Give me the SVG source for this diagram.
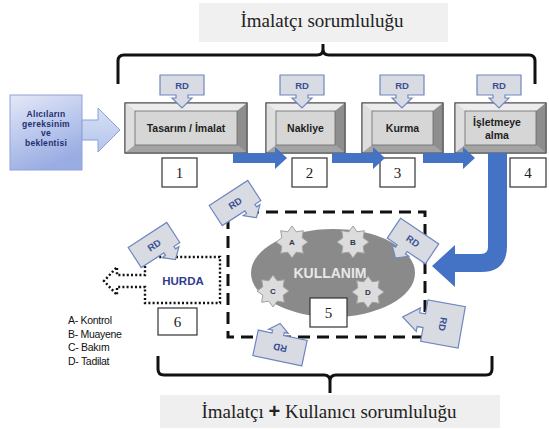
<svg xmlns="http://www.w3.org/2000/svg" width="549" height="429" viewBox="0 0 549 429">
<style>
.lbl{font-family:"Liberation Serif","Times New Roman",serif;fill:#222;}
.bt{font-family:"Liberation Sans",Arial,sans-serif;font-weight:bold;font-size:10.5px;fill:#1e1e1e;text-anchor:middle;}
.num{font-family:"Liberation Serif","Times New Roman",serif;font-size:15px;fill:#222;text-anchor:middle;}
.nbox{fill:#fff;stroke:#333;stroke-width:1.2;}
.bvo{fill:#c4c4c4;stroke:#4d4d4d;stroke-width:1;}
.bvt{fill:#ececec;}
.bvl{fill:#dedede;}
.bvr{fill:#8e8e8e;}
.bvb{fill:#a3a3a3;}
.bvi{fill:#d6d6d6;stroke:#6a6a6a;stroke-width:0.8;}
.blue{fill:#4472c4;}
.co{fill:#d8dbe2;stroke:#6f86c0;stroke-width:1.2;}
.rd{font-family:"Liberation Sans",Arial,sans-serif;font-weight:bold;font-size:9.5px;fill:#3b4f96;text-anchor:middle;}
.star{fill:#dcdcdc;stroke:#a0a0a0;stroke-width:1;}
.sl{font-family:"Liberation Sans",Arial,sans-serif;font-weight:bold;font-size:8px;fill:#2f3550;text-anchor:middle;}
.leg{font-family:"Liberation Sans",Arial,sans-serif;font-size:10.5px;fill:#111;letter-spacing:-0.3px;}
.brace{fill:none;stroke:#111;stroke-width:3;stroke-linejoin:round;}
.inp{font-family:"Liberation Sans",Arial,sans-serif;font-weight:bold;font-size:8.5px;fill:#1f3070;text-anchor:middle;letter-spacing:0.3px;}
</style>
<defs>
<linearGradient id="gIn" x1="0" y1="0" x2="0.4" y2="1">
<stop offset="0" stop-color="#e4e9f8"/>
<stop offset="1" stop-color="#9aade3"/>
</linearGradient>
<linearGradient id="gArr" x1="0" y1="0" x2="0" y2="1">
<stop offset="0" stop-color="#d6e0f5"/>
<stop offset="1" stop-color="#b4c5ec"/>
</linearGradient>
<path id="coTop" d="M-22,-10 H22 V10 H6 V13 H10 L0,23 L-10,13 H-6 V10 H-22 Z"/>
<path id="coR" d="M-23,-12 H23 V12 H16 V15 H20 L10,24 L0,15 H4 V12 H-23 Z"/>
<path id="star" d="M0,-16 L4.2,-10.2 L11.3,-11.3 L10.2,-4.2 L16,0 L10.2,4.2 L11.3,11.3 L4.2,10.2 L0,16 L-4.2,10.2 L-11.3,11.3 L-10.2,4.2 L-16,0 L-10.2,-4.2 L-11.3,-11.3 L-4.2,-10.2 Z"/>
</defs>
<rect width="549" height="429" fill="#fff"/>

<g id="label-top">
<rect x="199" y="3" width="249" height="39" fill="#f0f0f0"/>
<text class="lbl" x="322" y="27" font-size="19" text-anchor="middle">İmalatçı sorumluluğu</text>
</g>
<g id="brace-top">
<path class="brace" d="M118,84 V61 Q118,55 124,55 H317 Q323,55 323,49 V44 M323,49 Q323,55 329,55 H529 Q535,55 535,61 V84"/>
</g>

<g id="node-input">
<rect x="10" y="95" width="72" height="75" fill="url(#gIn)" stroke="#8fa2d9" stroke-width="1"/>
<text class="inp" x="46" y="117">Alıcıların</text>
<text class="inp" x="46" y="127">gereksinim</text>
<text class="inp" x="46" y="136">ve</text>
<text class="inp" x="46" y="145.5">beklentisi</text>
</g>

<g id="node-tasarim">
<rect class="bvo" x="125" y="103" width="122" height="50"/>
<polygon class="bvt" points="125,103 247,103 237,111 135,111"/>
<polygon class="bvl" points="125,103 135,111 135,145 125,153"/>
<polygon class="bvr" points="247,103 247,153 237,145 237,111"/>
<polygon class="bvb" points="125,153 135,145 237,145 247,153"/>
<rect class="bvi" x="135" y="111" width="102" height="34"/>
<rect x="125" y="103" width="122" height="50" fill="none" stroke="#4d4d4d"/>
<text class="bt" x="186" y="132">Tasarım / İmalat</text>
<use href="#coTop" class="co" x="182" y="85"/>
<text class="rd" x="182" y="88.5">RD</text>
<rect class="nbox" x="162" y="158" width="35" height="29"/>
<text class="num" x="179.5" y="178">1</text>
</g>

<g id="node-nakliye">
<rect class="bvo" x="266" y="103" width="79" height="50"/>
<polygon class="bvt" points="266,103 345,103 335,111 276,111"/>
<polygon class="bvl" points="266,103 276,111 276,145 266,153"/>
<polygon class="bvr" points="345,103 345,153 335,145 335,111"/>
<polygon class="bvb" points="266,153 276,145 335,145 345,153"/>
<rect class="bvi" x="276" y="111" width="59" height="34"/>
<rect x="266" y="103" width="79" height="50" fill="none" stroke="#4d4d4d"/>
<text class="bt" x="305.5" y="132">Nakliye</text>
<use href="#coTop" class="co" x="302" y="85"/>
<text class="rd" x="302" y="88.5">RD</text>
<rect class="nbox" x="292" y="158" width="35" height="29"/>
<text class="num" x="309.5" y="178">2</text>
</g>

<g id="node-kurma">
<rect class="bvo" x="362" y="103" width="81" height="50"/>
<polygon class="bvt" points="362,103 443,103 433,111 372,111"/>
<polygon class="bvl" points="362,103 372,111 372,145 362,153"/>
<polygon class="bvr" points="443,103 443,153 433,145 433,111"/>
<polygon class="bvb" points="362,153 372,145 433,145 443,153"/>
<rect class="bvi" x="372" y="111" width="61" height="34"/>
<rect x="362" y="103" width="81" height="50" fill="none" stroke="#4d4d4d"/>
<text class="bt" x="402.5" y="132">Kurma</text>
<use href="#coTop" class="co" x="402" y="85"/>
<text class="rd" x="402" y="88.5">RD</text>
<rect class="nbox" x="380" y="158" width="35" height="29"/>
<text class="num" x="397.5" y="178">3</text>
</g>

<g id="node-isletme">
<rect class="bvo" x="455" y="103" width="91" height="50"/>
<polygon class="bvt" points="455,103 546,103 536,111 465,111"/>
<polygon class="bvl" points="455,103 465,111 465,145 455,153"/>
<polygon class="bvr" points="546,103 546,153 536,145 536,111"/>
<polygon class="bvb" points="455,153 465,145 536,145 546,153"/>
<rect class="bvi" x="465" y="111" width="71" height="34"/>
<rect x="455" y="103" width="91" height="50" fill="none" stroke="#4d4d4d"/>
<text class="bt" x="497" y="126">İşletmeye</text>
<text class="bt" x="497" y="139">alma</text>
<use href="#coTop" class="co" x="499" y="85"/>
<text class="rd" x="499" y="88.5">RD</text>
<rect class="nbox" x="510" y="158" width="36" height="29"/>
<text class="num" x="528" y="178">4</text>
</g>

<g id="connectors">
<polygon points="82,120 98,120 98,108 120,130 98,152 98,140 82,140" fill="url(#gArr)" stroke="#8aa0d6" stroke-width="1"/>
<polygon class="blue" points="233,153 275,153 275,147 287,158 275,169 275,163 233,163"/>
<polygon class="blue" points="332,153 373,153 373,147 385,158 373,169 373,163 332,163"/>
<polygon class="blue" points="423,153 463,153 463,147 475,158 463,169 463,163 423,163"/>
<path class="blue" d="M488,153 H507 V246 Q507,272 481,272 H455 V287 L432,266 L455,245 V254 H481 Q488,254 488,247 Z"/>
</g>

<g id="node-kullanim">
<rect x="228" y="212" width="197" height="125" fill="none" stroke="#111" stroke-width="3" stroke-dasharray="12 7"/>
<ellipse cx="333" cy="273" rx="82" ry="44" fill="#8a8a8a"/>
<text x="330" y="278" font-family="Liberation Sans,Arial,sans-serif" font-weight="bold" font-size="14" fill="#e8e8e8" text-anchor="middle">KULLANIM</text>
<use href="#star" class="star" x="292" y="242"/>
<text class="sl" x="292" y="245">A</text>
<use href="#star" class="star" x="353" y="242"/>
<text class="sl" x="353" y="245">B</text>
<use href="#star" class="star" x="273" y="291"/>
<text class="sl" x="273" y="294">C</text>
<use href="#star" class="star" x="368" y="292"/>
<text class="sl" x="368" y="295">D</text>
<rect class="nbox" x="310" y="298" width="37" height="29"/>
<text class="num" x="328.5" y="318">5</text>
</g>

<g id="node-hurda">
<path d="M220,257 H145 V275 H117 V267 L104,281 L117,295 V287 H145 V303 H220 Z" fill="none" stroke="#111" stroke-width="2.4" stroke-dasharray="2 2.2"/>
<text x="183" y="285" font-family="Liberation Sans,Arial,sans-serif" font-weight="bold" font-size="11.5" fill="#2f3d8f" text-anchor="middle">HURDA</text>
<rect class="nbox" x="158" y="308" width="39" height="27"/>
<text class="num" x="177.5" y="327">6</text>
</g>

<g id="rd-callouts">
<g transform="translate(235,203) rotate(-33)">
<use href="#coR" class="co"/>
<text class="rd" x="0" y="3.5">RD</text>
</g>
<g transform="translate(154,245) rotate(-33)">
<use href="#coR" class="co"/>
<text class="rd" x="0" y="3.5">RD</text>
</g>
<g transform="translate(413,241) rotate(34)">
<path class="co" d="M-23,-12 H23 V12 H1 V15 H5 L-5,24 L-15,15 H-11 V12 H-23 Z"/>
<text class="rd" x="0" y="3.5">RD</text>
</g>
<g transform="translate(443,324) rotate(100)">
<path class="co" d="M-21,-19 H21 V19 H7 V25 H12 L0,41 L-12,25 H-7 V19 H-21 Z"/>
<text class="rd" x="0" y="3.5">RD</text>
</g>
<g transform="translate(280,348) rotate(192)">
<path class="co" d="M-25,-13 H25 V13 H11 V16 H15 L5,24 L-5,16 H-1 V13 H-25 Z"/>
<text class="rd" x="0" y="3.5">RD</text>
</g>
</g>

<g id="legend">
<text class="leg" x="68" y="324">A- Kontrol</text>
<text class="leg" x="68" y="337.5">B- Muayene</text>
<text class="leg" x="68" y="351">C- Bakım</text>
<text class="leg" x="68" y="364.5">D- Tadilat</text>
</g>

<g id="brace-bottom">
<path class="brace" d="M158,356 V369 Q158,375 164,375 H324 Q330,375 330,381 V393 M330,381 Q330,375 336,375 H486 Q492,375 492,369 V356"/>
</g>
<g id="label-bottom">
<rect x="160" y="395" width="340" height="33" fill="#efefef"/>
<text class="lbl" x="329" y="418" font-size="19" text-anchor="middle">İmalatçı <tspan font-family="Liberation Sans,Arial,sans-serif" font-weight="bold" font-size="20">+</tspan> Kullanıcı sorumluluğu</text>
</g>
</svg>
